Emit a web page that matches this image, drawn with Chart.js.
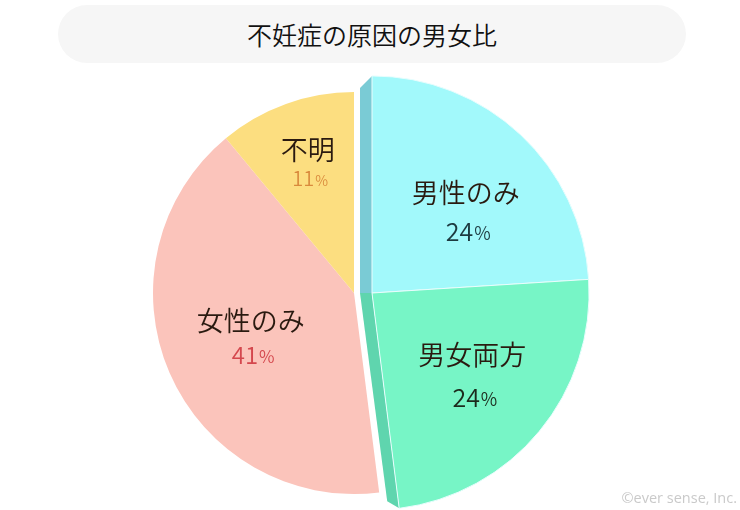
<!DOCTYPE html>
<html><head><meta charset="utf-8">
<script src="https://cdn.jsdelivr.net/npm/chart.js@4"></script>
<style>
html,body{margin:0;padding:0;background:#fff;width:740px;height:510px;overflow:hidden;font-family:"Noto Sans CJK JP",sans-serif;}
#wrap{position:relative;width:740px;height:510px;}
#title{position:absolute;left:58px;top:5px;width:628px;height:58px;border-radius:29px;background:#f6f6f6;color:#111;font-size:25px;font-weight:350;line-height:58px;text-align:center;}
#copy{position:absolute;right:3px;bottom:3px;color:#cacaca;font-size:14.5px;font-family:"Open Sans",sans-serif;}
canvas{position:absolute;left:0;top:0;}
</style></head>
<body><div id="wrap">
<canvas id="c" width="740" height="510"></canvas>
<div id="title">不妊症の原因の男女比</div>
<div id="copy">©ever sense, Inc.</div>
</div>
<script>
const categories = ['男性のみ', '男女両方', '女性のみ', '不明'];
const percentages = [24, 24, 41, 11];
const exploded = [true, true, false, false];
const faceColors = ['#a2f9fb', '#77f5c6', '#fbc4bb', '#fcde80'];
const sideColors = ['#7acbd5', '#5fd5ae', null, null];
const pctColors = ['#1d3a40', '#1c2a1c', '#d4474d', '#d98a3c'];
const labelColor = '#2a1a10';
const labelRadius = [0.57, 0.60, 0.56, 0.68];
const labelAngleShift = [6, 0, 0, 0];
const labelGap = [38, 42, 34, 29];
const pctSize = [25, 25, 24, 20];

const groupShift = 18;
const explodedScale = 1.08;
const sideDepth = 12;
const FONT = '"Noto Sans CJK JP"';

const shiftPlugin = {
  id: 'shift',
  beforeDatasetsDraw(chart) {
    const meta = chart.getDatasetMeta(0);
    const ca = chart.chartArea;
    const cx = (ca.left + ca.right) / 2, cy = (ca.top + ca.bottom) / 2;
    const baseR = Math.min(ca.right - ca.left, ca.bottom - ca.top) / 2;
    meta.data.forEach((el, i) => {
      el.x = cx + (exploded[i] ? groupShift : 0);
      el.y = cy;
      el.outerRadius = baseR * (exploded[i] ? explodedScale : 1);
    });
    const ctx = chart.ctx;
    meta.data.forEach((el, i) => {
      if (!exploded[i] || !sideColors[i]) return;
      const r = el.outerRadius;
      ctx.save();
      ctx.fillStyle = sideColors[i];
      ctx.beginPath();
      if (i === 0) {
        const a = el.startAngle;
        const px = el.x + Math.cos(a) * r, py = el.y + Math.sin(a) * r;
        ctx.moveTo(el.x, el.y);
        ctx.lineTo(px, py);
        ctx.lineTo(px - sideDepth, py + sideDepth);
        ctx.lineTo(el.x - sideDepth, el.y);
      } else {
        const a = el.endAngle;
        const px = el.x + Math.cos(a) * r, py = el.y + Math.sin(a) * r;
        ctx.moveTo(el.x, el.y);
        ctx.lineTo(px, py);
        ctx.lineTo(px - sideDepth, py - 7);
        ctx.lineTo(el.x - sideDepth, el.y);
      }
      ctx.closePath();
      ctx.fill();
      ctx.restore();
    });
  },
  afterDatasetsDraw(chart) {
    const meta = chart.getDatasetMeta(0);
    const ctx = chart.ctx;
    meta.data.forEach((el, i) => {
      const mid = (el.startAngle + el.endAngle) / 2 + labelAngleShift[i] * Math.PI / 180;
      const d = el.outerRadius * labelRadius[i];
      const ax = el.x + Math.cos(mid) * d, ay = el.y + Math.sin(mid) * d;
      const g = labelGap[i] / 2;
      ctx.save();
      ctx.textAlign = 'center';
      ctx.textBaseline = 'middle';
      ctx.fillStyle = labelColor;
      ctx.font = '350 27px ' + FONT;
      ctx.fillText(categories[i], ax, ay - g);
      const num = String(percentages[i]);
      const ps = pctSize[i], pss = Math.round(ps * 0.72);
      ctx.font = '350 ' + ps + 'px ' + FONT;
      const wn = ctx.measureText(num).width;
      ctx.font = '350 ' + pss + 'px ' + FONT;
      const wp = ctx.measureText('%').width;
      const x0 = ax - (wn + wp) / 2 + 2;
      ctx.textAlign = 'left';
      ctx.fillStyle = pctColors[i];
      ctx.font = '350 ' + ps + 'px ' + FONT;
      ctx.fillText(num, x0, ay + g);
      ctx.font = '350 ' + pss + 'px ' + FONT;
      ctx.fillText('%', x0 + wn + 1, ay + g + 2);
      ctx.restore();
    });
  }
};

new Chart(document.getElementById('c'), {
  type: 'pie',
  data: {
    labels: categories,
    datasets: [{
      data: percentages,
      backgroundColor: faceColors,
      borderWidth: [1, 1, 0, 0],
      borderColor: '#e8fdfd'
    }]
  },
  options: {
    responsive: false,
    animation: false,
    layout: { padding: { left: 153, right: 185, top: 92, bottom: 16 } },
    plugins: { legend: { display: false }, tooltip: { enabled: false }, title: { display: false } }
  },
  plugins: [shiftPlugin]
});
</script>
</body></html>
